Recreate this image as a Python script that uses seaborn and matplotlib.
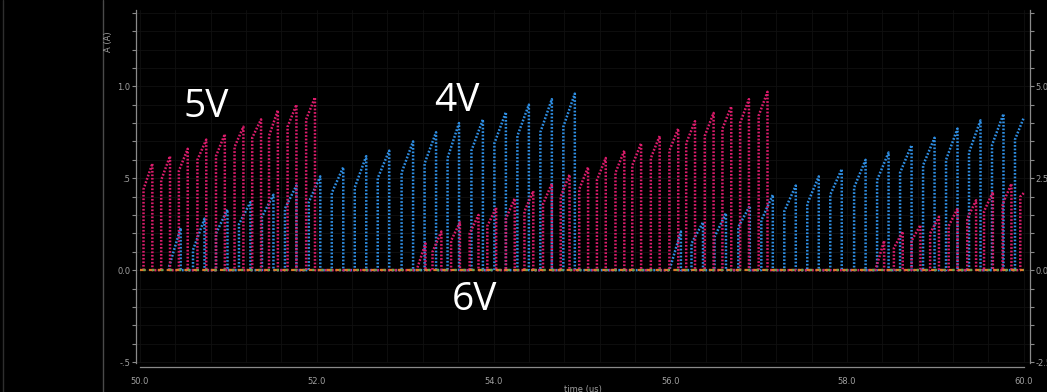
import numpy as np
import pandas as pd
import matplotlib
matplotlib.use("Agg")
import matplotlib.pyplot as plt
import seaborn as sns
from matplotlib.lines import Line2D
from matplotlib.ticker import MultipleLocator, FixedLocator, FixedFormatter

# ---------------- data ----------------
# 5V trace (pink): pulse turn-on times (us), current at turn-on and at turn-off (A)
P5_ON = [50.04, 50.24, 50.44, 50.65, 50.86, 51.07, 51.27, 51.46, 51.67, 51.88,
         53.13, 53.31, 53.52, 53.73, 53.93, 54.14, 54.35, 54.56, 54.76, 54.97,
         55.17, 55.38, 55.57, 55.78, 55.99, 56.18, 56.39, 56.59, 56.79, 57.00,
         58.32, 58.53, 58.73, 58.94, 59.15, 59.36, 59.55, 59.76, 59.96]
P5_START = [0.44, 0.49, 0.54, 0.60, 0.62, 0.67, 0.72, 0.73, 0.78, 0.82,
            0.00, 0.10, 0.16, 0.20, 0.24, 0.28, 0.32, 0.36, 0.40, 0.44,
            0.49, 0.53, 0.57, 0.61, 0.65, 0.69, 0.73, 0.77, 0.80, 0.84,
            0.00, 0.12, 0.16, 0.20, 0.24, 0.28, 0.32, 0.36, 0.40]
P5_END = [0.58, 0.62, 0.66, 0.71, 0.74, 0.78, 0.82, 0.87, 0.90, 0.94,
          0.145, 0.21, 0.26, 0.30, 0.34, 0.39, 0.43, 0.47, 0.52, 0.56,
          0.61, 0.65, 0.69, 0.73, 0.77, 0.81, 0.855, 0.89, 0.93, 0.97,
          0.16, 0.21, 0.245, 0.29, 0.335, 0.38, 0.425, 0.47, 0.42]
P5_WIDTH = 0.10

# 4V trace (blue)
P4_ON = [50.33, 50.60, 50.86, 51.12, 51.38, 51.64, 51.91, 52.17, 52.43, 52.69,
         52.96, 53.22, 53.48, 53.75, 54.01, 54.27, 54.53, 54.79,
         55.99, 56.24, 56.50, 56.77, 57.03, 57.29, 57.55, 57.81, 58.08, 58.34,
         58.60, 58.86, 59.12, 59.38, 59.64, 59.90]
P4_START = [0.02, 0.11, 0.20, 0.25, 0.29, 0.335, 0.37, 0.42, 0.45, 0.50,
            0.53, 0.58, 0.61, 0.65, 0.69, 0.73, 0.75, 0.78,
            0.00, 0.145, 0.18, 0.235, 0.27, 0.32, 0.36, 0.41, 0.45, 0.49,
            0.53, 0.57, 0.60, 0.64, 0.68, 0.71]
P4_END = [0.23, 0.28, 0.33, 0.37, 0.41, 0.46, 0.51, 0.56, 0.62, 0.65,
          0.70, 0.75, 0.80, 0.82, 0.86, 0.90, 0.93, 0.96,
          0.21, 0.26, 0.31, 0.35, 0.41, 0.46, 0.51, 0.55, 0.60, 0.64,
          0.68, 0.72, 0.77, 0.815, 0.85, 0.83]
P4_WIDTH = 0.13

# 6V trace (stays at zero)
P6_T = [50.0, 60.0]
P6_V = [0.0, 0.0]

T_END = 60.0

X_TICKS = [50.0, 52.0, 54.0, 56.0, 58.0, 60.0]
X_TICK_LABELS = ["50.0", "52.0", "54.0", "56.0", "58.0", "60.0"]
Y_TICKS = [-0.5, 0.0, 0.5, 1.0]
Y_TICK_LABELS = ["-.5", "0.0", ".5", "1.0"]
Y2_TICKS = [-2.5, 0.0, 2.5, 5.0]
Y2_TICK_LABELS = ["-2.5", "0.0", "2.5", "5.0"]


def waveform(on, v0, v1, width):
    t, v = [], []
    for ton, a, b in zip(on, v0, v1):
        toff = ton + width
        clipped = toff > T_END
        toff = min(toff, T_END)
        t += [ton, ton, toff]
        v += [0.0, a, b]
        if not clipped:
            t.append(toff)
            v.append(0.0)
    return pd.DataFrame({"t": t, "i": v})


df5 = waveform(P5_ON, P5_START, P5_END, P5_WIDTH)
df4 = waveform(P4_ON, P4_START, P4_END, P4_WIDTH)
df6 = pd.DataFrame({"t": P6_T, "i": P6_V})

# ---------------- style ----------------
sns.set_style("dark")
plt.rcParams["font.family"] = ["DejaVu Sans"]
plt.rcParams["axes.facecolor"] = "#000000"
plt.rcParams["figure.facecolor"] = "#000000"

GREY = "#8a8a8a"
PINK = "#dc1c6c"
BLUE = "#2f8fe4"

fig = plt.figure(figsize=(10.47, 3.92), dpi=100)
fig.patch.set_facecolor("#000000")
W, H = 1047, 392
ax = fig.add_axes([136 / W, 1 - 363 / H, (1030 - 136) / W, (363 - 10) / H])
ax.set_facecolor("#000000")

dots = (0, (0.7, 0.7))
sns.lineplot(data=df4, x="t", y="i", sort=False, estimator=None, color=BLUE,
             lw=1.8, linestyle=dots, ax=ax, zorder=3)
sns.lineplot(data=df5, x="t", y="i", sort=False, estimator=None, color=PINK,
             lw=1.8, linestyle=dots, ax=ax, zorder=4)
sns.lineplot(data=df6, x="t", y="i", sort=False, estimator=None, color="#e0782a",
             lw=1.6, linestyle=(0, (2.5, 1.5)), ax=ax, zorder=5)
sns.lineplot(data=df6, x="t", y="i", sort=False, estimator=None, color="#6aa84f",
             lw=1.6, linestyle=(2.5, (1.0, 3.0)), ax=ax, zorder=6)

ax.set_xlim(49.955, 60.07)
ax.set_ylim(-0.505, 1.415)
ax.set_xlabel("")
ax.set_ylabel("")

# grid
ax.xaxis.set_minor_locator(MultipleLocator(0.4))
ax.yaxis.set_minor_locator(MultipleLocator(0.1))
ax.grid(True, which="both", color="#101010", lw=0.6)
ax.set_axisbelow(True)

# spines
for s in ["top", "right"]:
    ax.spines[s].set_visible(False)
ax.spines["left"].set_color(GREY)
ax.spines["left"].set_linewidth(0.9)
ax.spines["left"].set_bounds(-0.505, 1.415)
ax.spines["bottom"].set_color(GREY)
ax.spines["bottom"].set_linewidth(0.9)
ax.spines["bottom"].set_bounds(50.0, 60.0)
ax.spines["bottom"].set_position(("outward", 3))

ax.xaxis.set_major_locator(FixedLocator(X_TICKS))
ax.xaxis.set_major_formatter(FixedFormatter(X_TICK_LABELS))
ax.yaxis.set_major_locator(FixedLocator(Y_TICKS))
ax.yaxis.set_major_formatter(FixedFormatter(Y_TICK_LABELS))
ax.tick_params(axis="x", which="both", direction="in", length=3, color=GREY,
               labelcolor="#a0a0a0", labelsize=6, pad=7, width=0.8)
ax.tick_params(axis="y", which="both", direction="out", length=3, color=GREY,
               labelcolor="#a0a0a0", labelsize=6, pad=1, width=0.8)

# right axis
ax2 = ax.twinx()
ax2.set_ylim(-2.525, 7.075)
for s in ["top", "left", "bottom"]:
    ax2.spines[s].set_visible(False)
ax2.spines["right"].set_color(GREY)
ax2.spines["right"].set_linewidth(0.9)
ax2.yaxis.set_major_locator(FixedLocator(Y2_TICKS))
ax2.yaxis.set_major_formatter(FixedFormatter(Y2_TICK_LABELS))
ax2.yaxis.set_minor_locator(MultipleLocator(0.5))
ax2.tick_params(axis="y", which="both", direction="out", length=3, color=GREY,
                labelcolor="#a0a0a0", labelsize=6, pad=1, width=0.8)
ax2.grid(False)

# labels
fig.text(109 / W, 1 - 42 / H, "A (A)", rotation=90, color="#a0a0a0",
         fontsize=6, ha="center", va="center")
fig.text(583 / W, 1 - 385 / H, "time (us)", color="#a0a0a0", fontsize=6,
         ha="center", va="top")

big = dict(color="white", fontsize=28, ha="center", va="center",
           family=["Open Sans", "DejaVu Sans"])
ax.text(50.75, 0.885, "5V", **big)
ax.text(53.59, 0.92, "4V", **big)
ax.text(53.78, -0.165, "6V", **big)

# panel separator lines
fig.add_artist(Line2D([103 / W, 103 / W], [0, 1], color="#4a4a4a", lw=1.0))
fig.add_artist(Line2D([3 / W, 3 / W], [0, 1], color="#2e2e2e", lw=1.0))

fig.savefig("out.png", dpi=100, facecolor="#000000")
